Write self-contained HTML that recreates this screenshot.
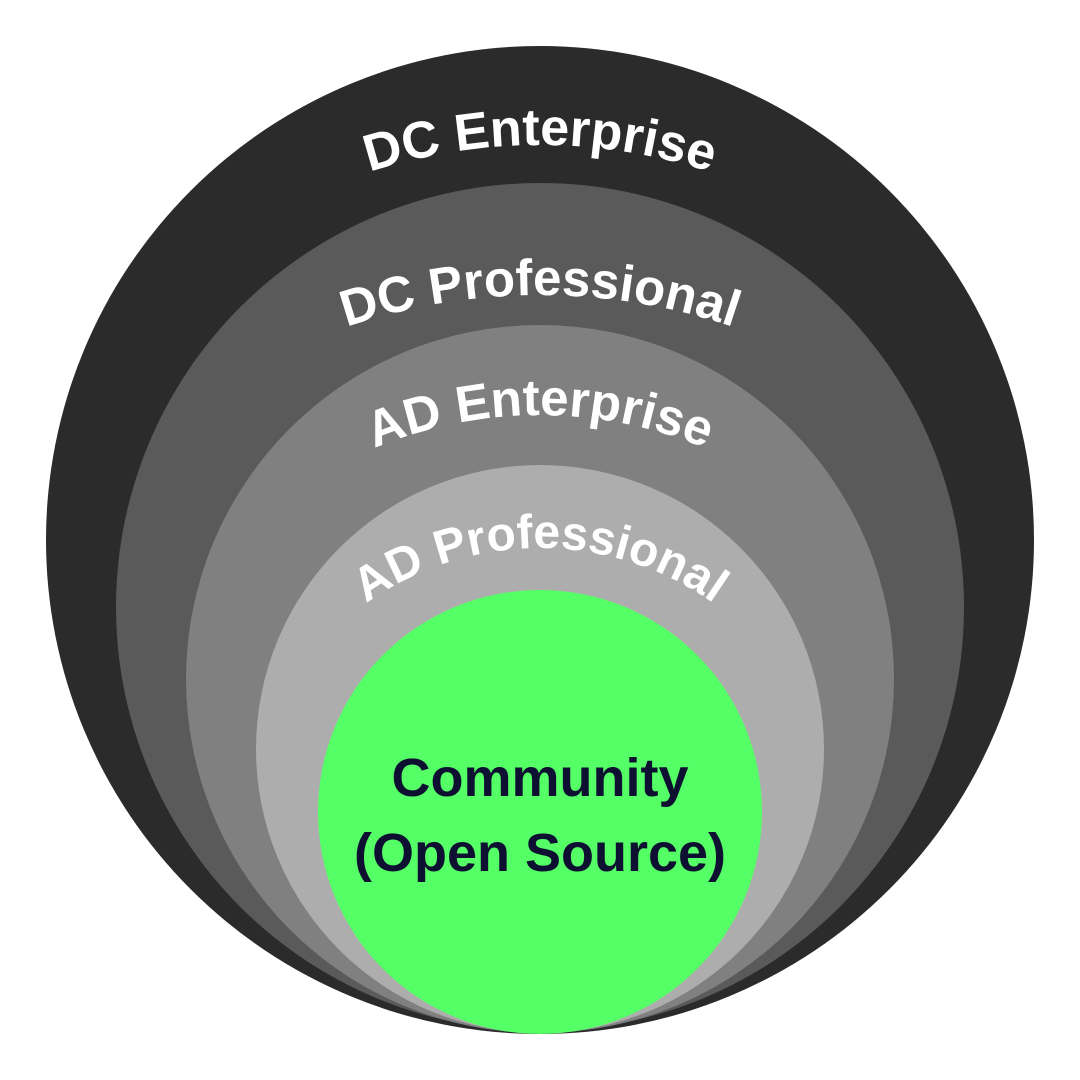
<!DOCTYPE html>
<html><head><meta charset="utf-8"><style>
html,body{margin:0;padding:0;background:#fff;width:1080px;height:1080px;overflow:hidden}
svg{display:block}
text{font-family:"Liberation Sans",sans-serif;font-weight:bold}
</style></head><body>
<svg width="1080" height="1080" viewBox="0 0 1080 1080" xmlns="http://www.w3.org/2000/svg">
<defs>
<path id="p1" d="M -10,695 A 550 550 0 0 1 1090,695"/>
<path id="p2" d="M -60,895 A 600 600 0 0 1 1140,895"/>
<path id="p3" d="M 110,845 A 430 430 0 0 1 970,845"/>
<path id="p4" d="M 240,848 A 300 300 0 0 1 840,848"/>
</defs>
<circle cx="540" cy="540" r="494" fill="#2b2b2b"/>
<circle cx="540" cy="607" r="424" fill="#5a5a5a"/>
<circle cx="540" cy="679" r="354" fill="#808080"/>
<circle cx="540" cy="749" r="284" fill="#adadad"/>
<circle cx="540" cy="812" r="222" fill="#55ff66"/>
<text fill="#fff" font-size="52"><textPath href="#p1" startOffset="50%" text-anchor="middle">DC Enterprise</textPath></text>
<text fill="#fff" font-size="51"><textPath href="#p2" startOffset="50%" text-anchor="middle">DC Professional</textPath></text>
<text fill="#fff" font-size="51"><textPath href="#p3" startOffset="50%" text-anchor="middle">AD Enterprise</textPath></text>
<text fill="#fff" font-size="48"><textPath href="#p4" startOffset="50%" text-anchor="middle">AD Professional</textPath></text>
<text x="540" y="796" fill="#0d1030" font-size="54" text-anchor="middle">Community</text>
<text x="540" y="871" fill="#0d1030" font-size="54" text-anchor="middle">(Open Source)</text>
</svg>
</body></html>
